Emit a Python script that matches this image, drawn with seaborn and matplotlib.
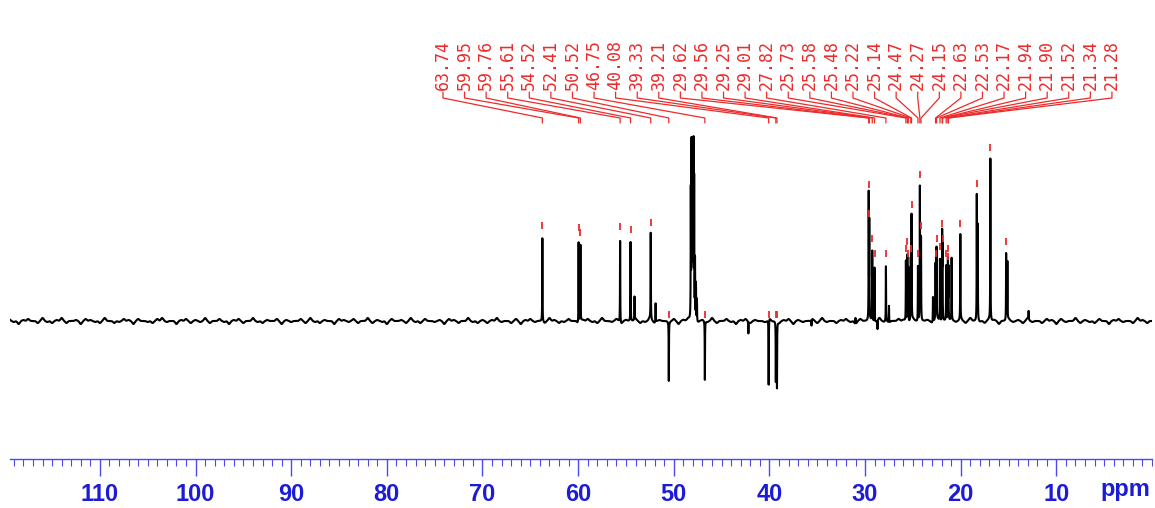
import numpy as np
import matplotlib
matplotlib.use("Agg")
import matplotlib.pyplot as plt
from matplotlib.ticker import MultipleLocator
import seaborn as sns

# ---------------- data ----------------
# peak positions (ppm) and intensities (arbitrary units, + up / - down)
peak_ppm = [63.74, 59.95, 59.76, 55.61, 54.52, 54.10, 52.41, 51.90, 50.52,
            48.22, 48.15, 48.08, 48.01, 47.94, 47.87, 47.78, 47.68, 47.58,
            46.75, 42.20,
            40.08, 39.33, 39.21, 35.60, 31.00,
            29.62, 29.56, 29.25, 29.01, 28.70, 27.82, 27.50,
            25.73, 25.58, 25.48, 25.22, 25.14, 24.47, 24.27, 24.15, 22.90,
            22.63, 22.53, 22.17, 21.94, 21.90, 21.52, 21.34, 21.28, 20.95,
            20.04, 18.32, 18.22, 16.90, 15.25, 15.12, 12.90]
peak_height = [83, 81, 76, 82, 79, 23, 86, 19, -59,
               125, 168, 165, 165, 168, 135, 58, 36, 22,
               -59, -12,
               -66, -60, -66, -6, 6,
               124, 95, 70, 55, -9, 55, 17,
               60, 67, 55, 60, 104, 55, 134, 83, 25,
               55, 70, 62, 85, 70, 55, 60, 52, 62,
               85, 125, 95, 161, 67, 58, 8]

# baseline noise, one value every 0.5 ppm from 119.5 down to 0.0
noise_amp = [2, -1, -3, 1, 2, 0, -2, 3, -1, -2, 1, 3, -2, 0, 1, -3, 2, 1, -1, -2,
             3, 0, -2, -1, 2, 1, -3, 2, 0, -1, -2, 2, 3, -1, 0, -3, 1, 2, -2, 1,
             -1, 3, -2, 0, 2, -1, -3, 1, 2, -2, 0, 3, -1, -2, 1, 0, 2, -3, 1, -1,
             0, 2, -2, 3, -1, -2, 1, 0, -3, 2, 1, -1, 2, -2, 0, 3, -2, 1, -1, -3,
             2, 0, 1, -2, 3, -1, -2, 2, 0, -1, 1, -3, 2, 1, -2, 0, 3, -1, -2, 1,
             -2, 1, 3, -1, 0, -2, 2, -3, 1, 2, -1, 0, -2, 3, 1, -2, -1, 2, 0, -3,
             1, 2, -1, -2, 3, 0, -1, 2, -3, 1, 0, 2, -2, -1, 3, -2, 1, 0, -1, 2,
             -3, 1, 2, 0, -2, 1, -1, 3, -2, 0, 2, -1, -3, 1, 2, -2, 1, 0, -1, 3,
             0, -2, 1, 2, -3, 1, -1, 0, 2, -2, 3, -1, 0, -2, 1, 2, -1, -3, 2, 0,
             1, -2, 3, -1, -2, 0, 2, 1, -3, 2, -1, 0, 1, -2, 3, -2, 0, 1, -1, 2,
             -2, 3, 0, -1, -2, 2, 1, -3, 0, 2, -1, 1, -2, 3, -1, 0, -2, 2, 1, -3,
             2, -1, 0, 3, -2, 1, -1, -2, 2, 0, -3, 1, 2, -1, 0, -2, 3, 1, -2, 0]

# picked-peak labels (ppm)
label_ppm = [63.74, 59.95, 59.76, 55.61, 54.52, 52.41, 50.52, 46.75, 40.08,
             39.33, 39.21, 29.62, 29.56, 29.25, 29.01, 27.82, 25.73, 25.58,
             25.48, 25.22, 25.14, 24.47, 24.27, 24.15, 22.63, 22.53, 22.17,
             21.94, 21.90, 21.52, 21.34, 21.28]
extra_marked_ppm = [20.04, 18.32, 16.90, 15.25]

tick_values = [110, 100, 90, 80, 70, 60, 50, 40, 30, 20, 10]
tick_labels = ["110", "100", "90", "80", "70", "60", "50", "40", "30", "20", "10"]

# ---------------- build spectrum trace ----------------
ppm = np.round(np.arange(0.0, 119.4 + 0.0025, 0.005), 4)[::-1]
spec = np.zeros_like(ppm)
for p, h in zip(peak_ppm, peak_height):
    w = 0.015
    spec += h * w**2 / ((ppm - p) ** 2 + w**2)
noise_pos = np.arange(len(noise_amp)) * -0.5 + 119.5
for c, a in zip(noise_pos, noise_amp):
    spec += a * np.exp(-0.5 * ((ppm - c) / 0.12) ** 2)

# ---------------- figure ----------------
sns.set_theme(style="white")
plt.rcParams["font.family"] = ["Liberation Sans", "DejaVu Sans"]

W, H = 1155, 508
fig = plt.figure(figsize=(W / 100, H / 100), dpi=100)
ax = fig.add_axes([10 / W, (H - 459) / H, 1142 / W, (459 - 20) / H])
ax.set_xlim(119.4, 0.0)
ax.set_ylim(-138, 301)

sns.lineplot(x=ppm, y=spec, ax=ax, color="black", lw=1.5,
             estimator=None, sort=False, legend=False)

red = "#ec2b2b"
# peak markers
height_of = dict(zip(peak_ppm, peak_height))
for p in label_ppm + extra_marked_ppm:
    h = height_of[p]
    if h > 0:
        y0, y1 = h + 9, h + 16
    else:
        y0, y1 = 3, 10
    ax.plot([p, p], [y0, y1], color=red, lw=1.3, solid_capstyle="butt")

# labels with connectors
n = len(label_ppm)
lab_x = np.linspace(74.13, 4.19, n)
for lx, p in zip(lab_x, label_ppm):
    ax.plot([lx, lx, p, p], [229, 223, 203, 198], color=red, lw=0.9,
            clip_on=False)
    ax.text(lx, 231, f"{p:.2f}", rotation=90, ha="center", va="bottom",
            color=red, fontsize=12, family="DejaVu Sans Mono",
            clip_on=False)

# axis styling
blue_line = "#4a4aee"
blue_text = "#1c1cd6"
for s in ["left", "right", "top"]:
    ax.spines[s].set_visible(False)
ax.spines["bottom"].set_color(blue_line)
ax.spines["bottom"].set_linewidth(1.0)
ax.set_yticks([])
ax.set_xticks(tick_values)
ax.set_xticklabels(tick_labels, fontweight="bold")
ax.xaxis.set_minor_locator(MultipleLocator(1))
ax.tick_params(axis="x", which="major", length=12, width=1.0, color=blue_line,
               labelcolor=blue_text, labelsize=17, pad=5, direction="out",
               bottom=True)
ax.tick_params(axis="x", which="minor", length=5, width=0.8, color=blue_line,
               direction="out", bottom=True)
ax.set_xlabel("")
ax.set_ylabel("")
ax.annotate("ppm", xy=(2.8, 0), xycoords=("data", "axes fraction"),
            xytext=(0, -(12 * 0.72 + 5)), textcoords="offset points",
            ha="center", va="top", color=blue_text, fontsize=17,
            fontweight="bold", annotation_clip=False)
ax.grid(False)

fig.savefig("out.png", dpi=100, facecolor="white")
